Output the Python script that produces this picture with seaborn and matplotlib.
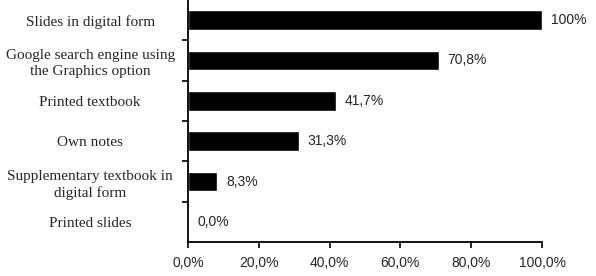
import matplotlib
matplotlib.use('Agg')
import matplotlib.pyplot as plt
import seaborn as sns
import pandas as pd
from matplotlib.ticker import FixedLocator

sns.set_style('white')

# Data
sources = ['Slides in digital form',
           'Google search engine using\nthe Graphics option',
           'Printed textbook',
           'Own notes',
           'Supplementary textbook in\ndigital form',
           'Printed slides']
shares = [100, 70.8, 41.7, 31.3, 8.3, 0.0]
share_labels = ['100%', '70,8%', '41,7%', '31,3%', '8,3%', '0,0%']
x_ticks = [0, 20, 40, 60, 80, 100]
x_tick_labels = ['0,0%', '20,0%', '40,0%', '60,0%', '80,0%', '100,0%']

df = pd.DataFrame({'source': sources, 'share': shares})

fig = plt.figure(figsize=(5.96, 2.76), dpi=100)
ax = fig.add_axes([188 / 596, 1 - 242 / 276, (542 - 188) / 596, 242 / 276])

sns.barplot(data=df, x='share', y='source', orient='h', color='black',
            width=0.48, saturation=1, ax=ax)

ax.set_xlim(0, 100)
ax.set_ylim(len(sources) - 0.5, -0.5)
ax.set_xlabel('')
ax.set_ylabel('')

# x axis
ax.set_xticks(x_ticks)
ax.set_xticklabels(x_tick_labels, family='Liberation Sans', fontsize=10)
ax.tick_params(axis='x', direction='out', length=4, width=1.2,
               color='black', pad=6, bottom=True)

# y axis: labels centred, ticks at category boundaries
ax.set_yticks(range(len(sources)))
ax.set_yticklabels(sources, family='Liberation Serif', fontsize=11,
                   ha='center', linespacing=1.3)
ax.tick_params(axis='y', which='major', length=0, pad=70.5)
ax.yaxis.set_minor_locator(FixedLocator([i + 0.5 for i in range(len(sources) - 1)]))
ax.tick_params(axis='y', which='minor', direction='out', length=4,
               width=1.2, color='black', left=True)

for s in ['top', 'right']:
    ax.spines[s].set_visible(False)
for s in ['left', 'bottom']:
    ax.spines[s].set_color('black')
    ax.spines[s].set_linewidth(1.3)

# value labels
for i, (v, lab) in enumerate(zip(shares, share_labels)):
    ax.annotate(lab, (v, i), xytext=(6.5, 0), textcoords='offset points',
                va='center', ha='left', family='Liberation Sans', fontsize=10)

fig.savefig('out.png', dpi=100)
